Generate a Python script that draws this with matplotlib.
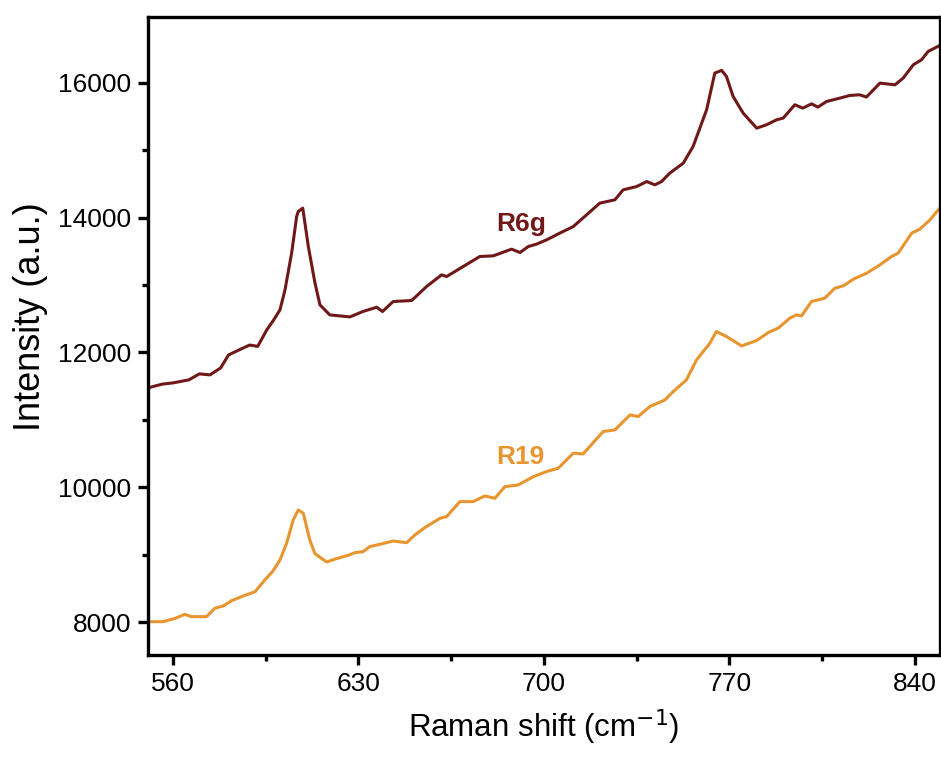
import matplotlib.pyplot as plt
from matplotlib.ticker import MultipleLocator

plt.rcParams["font.family"] = ["Liberation Sans", "DejaVu Sans"]

r6g_shift = [550.5, 556, 560, 566, 570, 574, 578, 581, 585, 589, 592, 595.4, 598, 600.4,
             602.3, 604.8, 606.7, 607.3, 609.0, 611.1, 613.6, 615.5, 619.2, 626.8, 631.7,
             636.9, 639.1, 643.1, 650.1, 655.7, 661.4, 663.3, 669.5, 675.8, 680.9, 687.8,
             691, 694.1, 697.2, 701, 706, 711.1, 716.1, 721.1, 726.8, 729.9, 735, 738.8,
             741.9, 744.4, 747.5, 752.6, 756.3, 761.4, 764.5, 767.1, 768.9, 771.4, 775.2,
             780.3, 784, 787.8, 790.3, 794.7, 797.7, 801, 803.4, 806.7, 811.7, 815.5,
             819.2, 821.7, 826.8, 832.5, 835.6, 839.4, 842.5, 845, 849.4]
r6g_intensity = [11474, 11530, 11548, 11593, 11682, 11667, 11770, 11963, 12038, 12110, 12090,
                 12334, 12480, 12631, 12928, 13473, 14016, 14091, 14141, 13571, 13032, 12705,
                 12557, 12527, 12607, 12671, 12607, 12755, 12770, 12977, 13151, 13126, 13274,
                 13423, 13433, 13532, 13482, 13571, 13606, 13670, 13770, 13868, 14041, 14215,
                 14264, 14412, 14461, 14535, 14486, 14535, 14660, 14808, 15055, 15599, 16144,
                 16184, 16094, 15797, 15550, 15327, 15377, 15451, 15476, 15674, 15624, 15688,
                 15639, 15723, 15773, 15812, 15822, 15788, 15995, 15970, 16070, 16267, 16341,
                 16465, 16554]

r19_shift = [550.7, 556.3, 560.8, 564.5, 567, 572.7, 575.8, 579, 582.2, 586.5, 591, 594.7,
             597.8, 600.4, 602.9, 605.4, 607.3, 609.2, 611.7, 613.6, 618, 621.7, 626.2, 628.7,
             631.8, 634.3, 638.1, 643.1, 648.2, 651.3, 655, 660.8, 663.3, 668.3, 673.3, 677.7,
             681.5, 685.3, 690.3, 696, 701, 705.4, 711.1, 714.8, 722.4, 726.8, 732.5, 735.6,
             740, 745.7, 748.8, 753.8, 757.6, 762.6, 765.1, 768.9, 774.6, 780.3, 784.7, 788.4,
             792.8, 795.3, 797.2, 801, 806, 809.8, 813, 816.8, 821.8, 826.8, 831.2, 833.7,
             838.8, 841.9, 845.7, 849.4]
r19_intensity = [8006, 8006, 8055, 8115, 8081, 8081, 8205, 8239, 8318, 8387, 8451, 8625,
                 8760, 8921, 9168, 9515, 9663, 9614, 9213, 9015, 8892, 8941, 8991, 9030,
                 9045, 9120, 9154, 9203, 9178, 9292, 9400, 9540, 9565, 9787, 9787, 9871,
                 9837, 10009, 10034, 10157, 10233, 10282, 10505, 10495, 10827, 10851, 11073, 11049,
                 11198, 11296, 11419, 11593, 11889, 12136, 12310, 12236, 12097, 12177, 12296, 12360,
                 12508, 12557, 12542, 12755, 12805, 12953, 12988, 13087, 13176, 13299, 13423, 13473,
                 13770, 13829, 13967, 14141]

r6g_color = "#701818"
r19_color = "#E8952F"

fig = plt.figure(figsize=(9.41, 7.60), dpi=100)
ax = fig.add_axes([0.157, 0.138, 0.842, 0.840])

ax.plot(r6g_shift, r6g_intensity, color=r6g_color, lw=2.2)
ax.plot(r19_shift, r19_intensity, color=r19_color, lw=2.2)

ax.text(691.3, 13907, "R6g", color=r6g_color, fontsize=19, fontweight="bold", ha="center", va="center")
ax.text(691.3, 10450, "R19", color=r19_color, fontsize=19, fontweight="bold", ha="center", va="center")

ax.set_xlim(550.5, 849.5)
ax.set_ylim(7510, 16980)
ax.xaxis.set_major_locator(MultipleLocator(70))
ax.xaxis.set_minor_locator(MultipleLocator(35))
ax.yaxis.set_major_locator(MultipleLocator(2000))
ax.yaxis.set_minor_locator(MultipleLocator(1000))

for spine in ax.spines.values():
    spine.set_linewidth(2.4)
ax.tick_params(which="major", direction="out", length=7, width=2.4, labelsize=19, pad=5)
ax.tick_params(which="minor", direction="out", length=4, width=2.4)

ax.set_xlabel("Raman shift (cm$^{-1}$)", fontsize=22.5)
ax.set_ylabel("Intensity (a.u.)", fontsize=26)
ax.xaxis.set_label_coords(0.5, -0.082)
ax.yaxis.set_label_coords(-0.126, 0.531)

fig.savefig("out.png", dpi=100)
